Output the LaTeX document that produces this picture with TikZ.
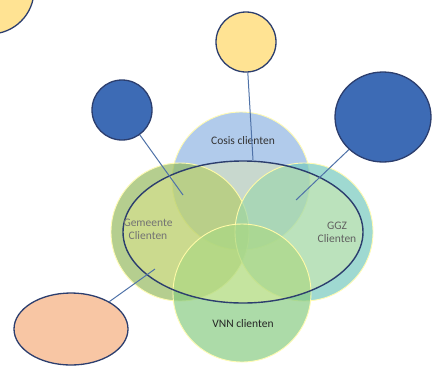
\documentclass[tikz,border=0pt]{standalone}
\usepackage{fontspec}
\setsansfont{Carlito}
\usetikzlibrary{shapes.geometric}
\definecolor{cosisblue}{HTML}{8DB3E2}
\definecolor{gemgreen}{HTML}{92B85A}
\definecolor{ggzteal}{HTML}{72C8BC}
\definecolor{vnngreen}{HTML}{86CA80}
\definecolor{bubyellow}{HTML}{FFE393}
\definecolor{bubblue}{HTML}{3D6BB5}
\definecolor{buborange}{HTML}{F8C6A4}
\definecolor{rimdark}{HTML}{2C3E6E}
\definecolor{linkblue}{HTML}{4F72A8}
\tikzset{
  venn/.style={circle,inner sep=0pt,minimum size=138pt,fill opacity=0.68,draw=white!70!yellow,line width=0.9pt},
  bubble/.style={inner sep=0pt,draw=rimdark,line width=1.3pt},
  link/.style={draw=linkblue,line width=1pt},
  lbl/.style={font=\sffamily\fontsize{11.5}{13}\selectfont,align=center}
}
\begin{document}
\begin{tikzpicture}[x=1pt,y=-1pt]
  \useasboundingbox (0,0) rectangle (443,378);
  \fill[white] (0,0) rectangle (443,378);

  % venn circles
  \node[venn,fill=cosisblue] (cosis) at (241,181) {};
  \node[venn,fill=gemgreen] (gem) at (180,232) {};
  \node[venn,fill=ggzteal] (ggz) at (304,232) {};
  \node[venn,fill=vnngreen] (vnn) at (242,293) {};

  % big ellipse
  \node[ellipse,inner sep=0pt,minimum width=240pt,minimum height=142pt,
        fill=yellow!45!white,fill opacity=0.3,draw=rimdark,line width=1.4pt] (ring) at (243,232) {};

  \node[lbl,text=black!80] (cosisL) at (243,141) {Cosis clienten};
  \node[lbl,text=black!55] (gemL) at (148,229) {Gemeente\\Clienten};
  \node[lbl,text=black!62] (ggzL) at (337,232) {GGZ\\Clienten};
  \node[lbl,text=black!85] (vnnL) at (243,324) {VNN clienten};

  % bubbles
  \node[bubble,circle,fill=bubyellow,minimum size=88pt] (corner) at (-10,-10) {};
  \node[bubble,circle,fill=bubyellow,minimum size=60pt] (ytop) at (246,42) {};
  \node[bubble,circle,fill=bubblue,minimum size=60pt] (bleft) at (122,110) {};
  \node[bubble,ellipse,fill=bubblue,minimum width=96pt,minimum height=90pt] (bright) at (383,117) {};
  \node[bubble,ellipse,fill=buborange,minimum width=114pt,minimum height=72pt] (orange) at (71,329) {};

  \coordinate (p1) at (253,160);
  \coordinate (p2) at (183,195);
  \coordinate (p3) at (296,200);
  \coordinate (p4) at (155,269);

  \draw[link] (ytop) -- (p1);
  \draw[link] (bleft) -- (p2);
  \draw[link] (bright) -- (p3);
  \draw[link] (orange) -- (p4);
\end{tikzpicture}
\end{document}
